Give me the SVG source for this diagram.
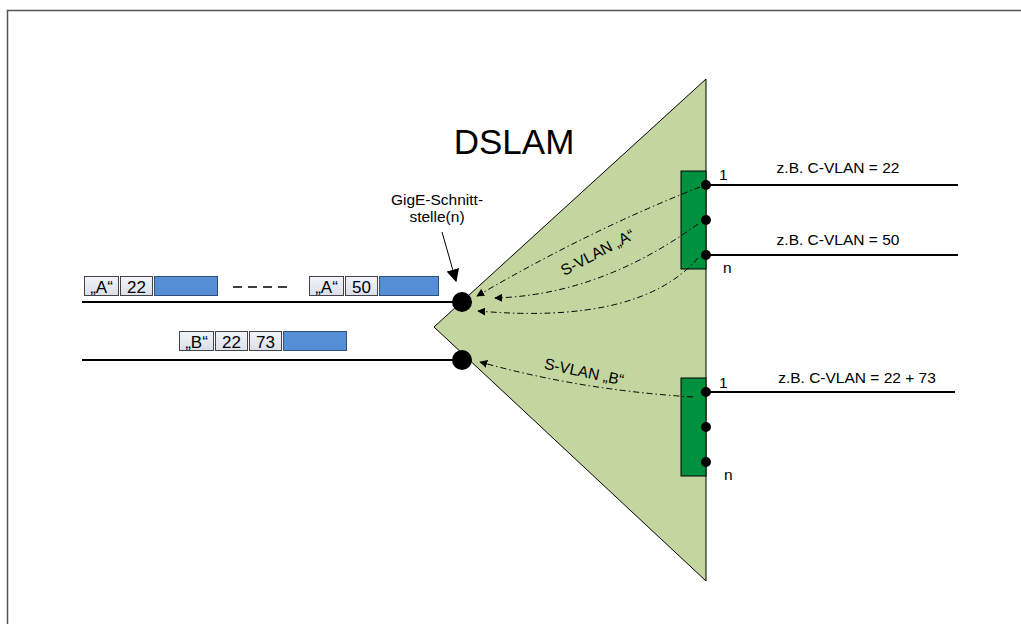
<svg xmlns="http://www.w3.org/2000/svg" width="1021" height="624" viewBox="0 0 1021 624">
<style>
.t{font-family:"Liberation Sans",Arial,sans-serif;fill:#000}
.lab{font-size:15.5px}
.pk{font-size:17px}
.line{stroke:#000;stroke-width:2;fill:none}
.dd{stroke:#000;stroke-width:1;fill:none;stroke-dasharray:6 3 1.5 3}
.tag{stroke:#444;stroke-width:1}
.blue{fill:#558ed5;stroke:#2f4f7f;stroke-width:1}
.dot{fill:#000}
</style>
<defs>
<linearGradient id="tg" x1="0" y1="0" x2="0" y2="1">
<stop offset="0" stop-color="#f2f4f8"/><stop offset="1" stop-color="#d9dfea"/>
</linearGradient>
<marker id="ah" viewBox="0 0 10 10" refX="9" refY="5" markerWidth="8" markerHeight="8" markerUnits="userSpaceOnUse" orient="auto">
<path d="M0,0 L10,5 L0,10 z" fill="#000"/>
</marker>
<marker id="ahb" viewBox="0 0 10 10" refX="9" refY="5" markerWidth="13" markerHeight="13" markerUnits="userSpaceOnUse" orient="auto">
<path d="M0,0 L10,5 L0,10 z" fill="#000"/>
</marker>
</defs>
<rect width="1021" height="624" fill="#fff"/>
<path d="M7.5,624 V10.5 H1021" fill="none" stroke="#555" stroke-width="1.5"/>

<g id="dslam">
<polygon points="706,79 434,327 706,581" fill="#c4d6a0" stroke="#000" stroke-width="1"/>
<text class="t" x="514" y="154" font-size="35" text-anchor="middle">DSLAM</text>
</g>

<g id="card-top">
<rect x="681" y="171" width="25" height="98" fill="#00913f" stroke="#000" stroke-width="1"/>
<circle class="dot" cx="706" cy="185" r="5"/>
<circle class="dot" cx="706" cy="220" r="5"/>
<circle class="dot" cx="706" cy="255" r="5"/>
<text class="t lab" x="719" y="180">1</text>
<text class="t lab" x="723" y="273">n</text>
</g>

<g id="card-bottom">
<rect x="681" y="378" width="25" height="98" fill="#00913f" stroke="#000" stroke-width="1"/>
<circle class="dot" cx="706" cy="392" r="5"/>
<circle class="dot" cx="706" cy="427" r="5"/>
<circle class="dot" cx="706" cy="462" r="5"/>
<text class="t lab" x="719" y="388">1</text>
<text class="t lab" x="724" y="480">n</text>
</g>

<g id="gige">
<circle class="dot" cx="462" cy="302" r="10"/>
<circle class="dot" cx="462" cy="360" r="10"/>
<text class="t lab" x="437" y="205" text-anchor="middle">GigE-Schnitt-</text>
<text class="t lab" x="437" y="222" text-anchor="middle">stelle(n)</text>
</g>

<g id="packets">
<rect class="tag" x="84.5" y="276.5" width="34" height="19" fill="url(#tg)"/>
<text class="t pk" x="101.5" y="292.5" text-anchor="middle">„A“</text>
<rect class="tag" x="120.5" y="276.5" width="32" height="19" fill="url(#tg)"/>
<text class="t pk" x="136.5" y="292.5" text-anchor="middle">22</text>
<rect class="blue" x="154.5" y="276.5" width="63" height="19"/>
<path d="M233,287 H290" stroke="#000" stroke-width="1.3" stroke-dasharray="9 6"/>
<rect class="tag" x="309.5" y="276.5" width="34" height="19" fill="url(#tg)"/>
<text class="t pk" x="326.5" y="292.5" text-anchor="middle">„A“</text>
<rect class="tag" x="345.5" y="276.5" width="32" height="19" fill="url(#tg)"/>
<text class="t pk" x="361.5" y="292.5" text-anchor="middle">50</text>
<rect class="blue" x="379.5" y="276.5" width="59" height="19"/>

<rect class="tag" x="179.5" y="331.5" width="34" height="19" fill="url(#tg)"/>
<text class="t pk" x="196.5" y="347.5" text-anchor="middle">„B“</text>
<rect class="tag" x="215.5" y="331.5" width="32" height="19" fill="url(#tg)"/>
<text class="t pk" x="231.5" y="347.5" text-anchor="middle">22</text>
<rect class="tag" x="249.5" y="331.5" width="32" height="19" fill="url(#tg)"/>
<text class="t pk" x="265.5" y="347.5" text-anchor="middle">73</text>
<rect class="blue" x="283.5" y="331.5" width="63" height="19"/>
</g>

<g id="labels">
<text class="t lab" x="838" y="173" text-anchor="middle">z.B. C-VLAN = 22</text>
<text class="t lab" x="838" y="245" text-anchor="middle">z.B. C-VLAN = 50</text>
<text class="t lab" x="857" y="383" text-anchor="middle">z.B. C-VLAN = 22 + 73</text>
<text class="t lab" transform="translate(600,257) rotate(-28)" text-anchor="middle">S-VLAN „A“</text>
<text class="t lab" transform="translate(583,377) rotate(12)" text-anchor="middle">S-VLAN „B“</text>
</g>

<g id="connectors">
<path class="line" d="M82,302 H462"/>
<path class="line" d="M82,360 H462"/>
<path class="line" d="M706,185 H958"/>
<path class="line" d="M706,255 H958"/>
<path class="line" d="M706,392 H955"/>
<path d="M442,232 L456,281" stroke="#000" stroke-width="1" fill="none" marker-end="url(#ahb)"/>
<path class="dd" d="M700,187 Q590,230 477,296" marker-end="url(#ah)"/>
<path class="dd" d="M698,224 Q600,295 495,298" marker-end="url(#ah)"/>
<path class="dd" d="M698,258 Q640,325 478,311" marker-end="url(#ah)"/>
<path class="dd" d="M693,397 Q580,390 480,362" marker-end="url(#ah)"/>
</g>
</svg>
